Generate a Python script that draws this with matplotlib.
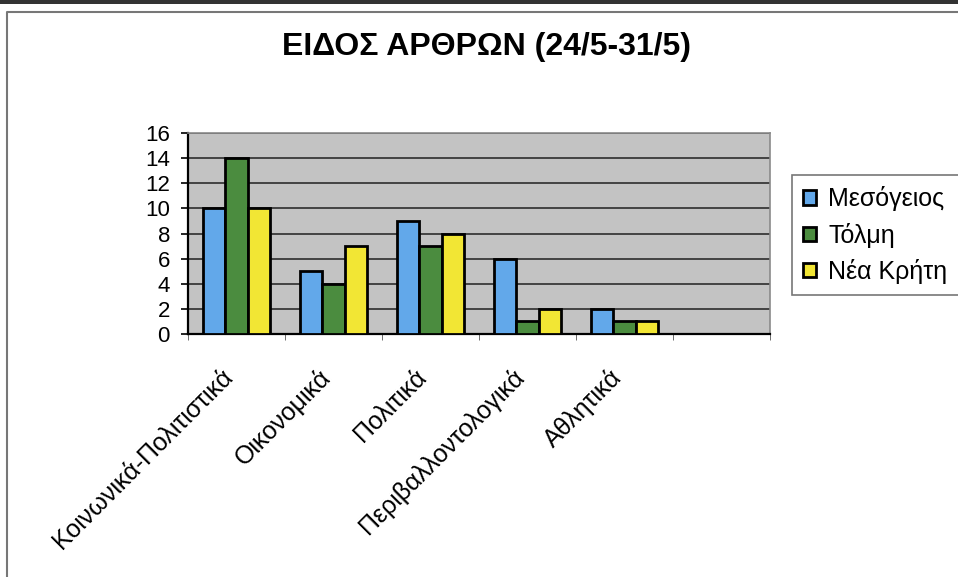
import matplotlib
matplotlib.use("Agg")
import matplotlib.pyplot as plt
import matplotlib.transforms as mtransforms
from matplotlib.patches import Rectangle
from matplotlib.lines import Line2D
import numpy as np

plt.rcParams['font.family'] = ['Liberation Sans', 'DejaVu Sans']

title = 'ΕΙΔΟΣ ΑΡΘΡΩΝ (24/5-31/5)'
categories = ['Κοινωνικά-Πολιτιστικά', 'Οικονομικά', 'Πολιτικά',
              'Περιβαλλοντολογικά', 'Αθλητικά']
series_names = ['Μεσόγειος', 'Τόλμη', 'Νέα Κρήτη']
mesogeios = [10, 5, 9, 6, 2]
tolmi = [14, 4, 7, 1, 1]
nea_kriti = [10, 7, 8, 2, 1]
colors = ['#62a8ea', '#4b8c3f', '#f2e634']
y_ticks = list(range(0, 17, 2))

W, H = 958, 577
fig = plt.figure(figsize=(W / 100, H / 100), dpi=100)
fig.patch.set_facecolor('white')

# plot area in pixel coords of the reference
ax = fig.add_axes([188 / W, 1 - 334 / H, (770 - 188) / W, (334 - 133) / H])
ax.set_facecolor('#c3c3c3')

x = np.arange(len(categories))
bw = 0.227
for i, (vals, name) in enumerate(zip([mesogeios, tolmi, nea_kriti], series_names)):
    ax.bar(x + (i - 1) * bw, vals, bw, color=colors[i], edgecolor='black',
           linewidth=2, label=name, zorder=3)

ax.set_xlim(-0.5, 5.5)
ax.set_ylim(0, 16)
ax.set_yticks(y_ticks)
ax.set_yticklabels([str(v) for v in y_ticks], fontsize=16)
ax.yaxis.grid(True, color='#2e2e2e', linewidth=1.2, zorder=1)
ax.set_axisbelow(True)

ax.set_xticks(x)
ax.set_xticks(np.arange(-0.5, 6, 1), minor=True)
ax.tick_params(axis='x', which='major', length=0, pad=22)
ax.tick_params(axis='x', which='minor', length=4, direction='out', color='#555555')
ax.tick_params(axis='y', length=5, direction='out', width=1.2, pad=8)
ax.set_xticklabels(categories, rotation=45, ha='right', va='top',
                   rotation_mode='anchor', fontsize=18)
shift = mtransforms.ScaledTranslation(-16 / 100, 0, fig.dpi_scale_trans)
for lbl in ax.get_xticklabels():
    lbl.set_transform(lbl.get_transform() + shift)

for s in ['left', 'bottom']:
    ax.spines[s].set_color('black')
    ax.spines[s].set_linewidth(1.6)
for s in ['top', 'right']:
    ax.spines[s].set_color('#8a8a8a')
    ax.spines[s].set_linewidth(1.2)

fig.text(486 / W, 1 - 47 / H, title, ha='center', va='center',
         fontsize=23, fontweight='bold')

leg = ax.legend(loc='upper left', bbox_to_anchor=(792 / W, 1 - 175 / H),
                bbox_transform=fig.transFigure, fontsize=18, frameon=True,
                fancybox=False, handlelength=0.5, handleheight=0.5,
                handletextpad=0.5, labelspacing=0.45, borderpad=0.45,
                borderaxespad=0)
leg.get_frame().set_edgecolor('#555555')
leg.get_frame().set_linewidth(1.2)
for p in leg.get_patches():
    p.set_linewidth(2)

# outer frame of the chart object
fig.add_artist(Rectangle((0, 1 - 4 / H), 1, 4 / H, transform=fig.transFigure,
                         color='#333333', lw=0))
fig.add_artist(Line2D([7 / W, 7 / W, 1], [0, 1 - 12 / H, 1 - 12 / H],
                      transform=fig.transFigure, color='#777777', lw=1.5))

fig.savefig('out.png', dpi=100)
